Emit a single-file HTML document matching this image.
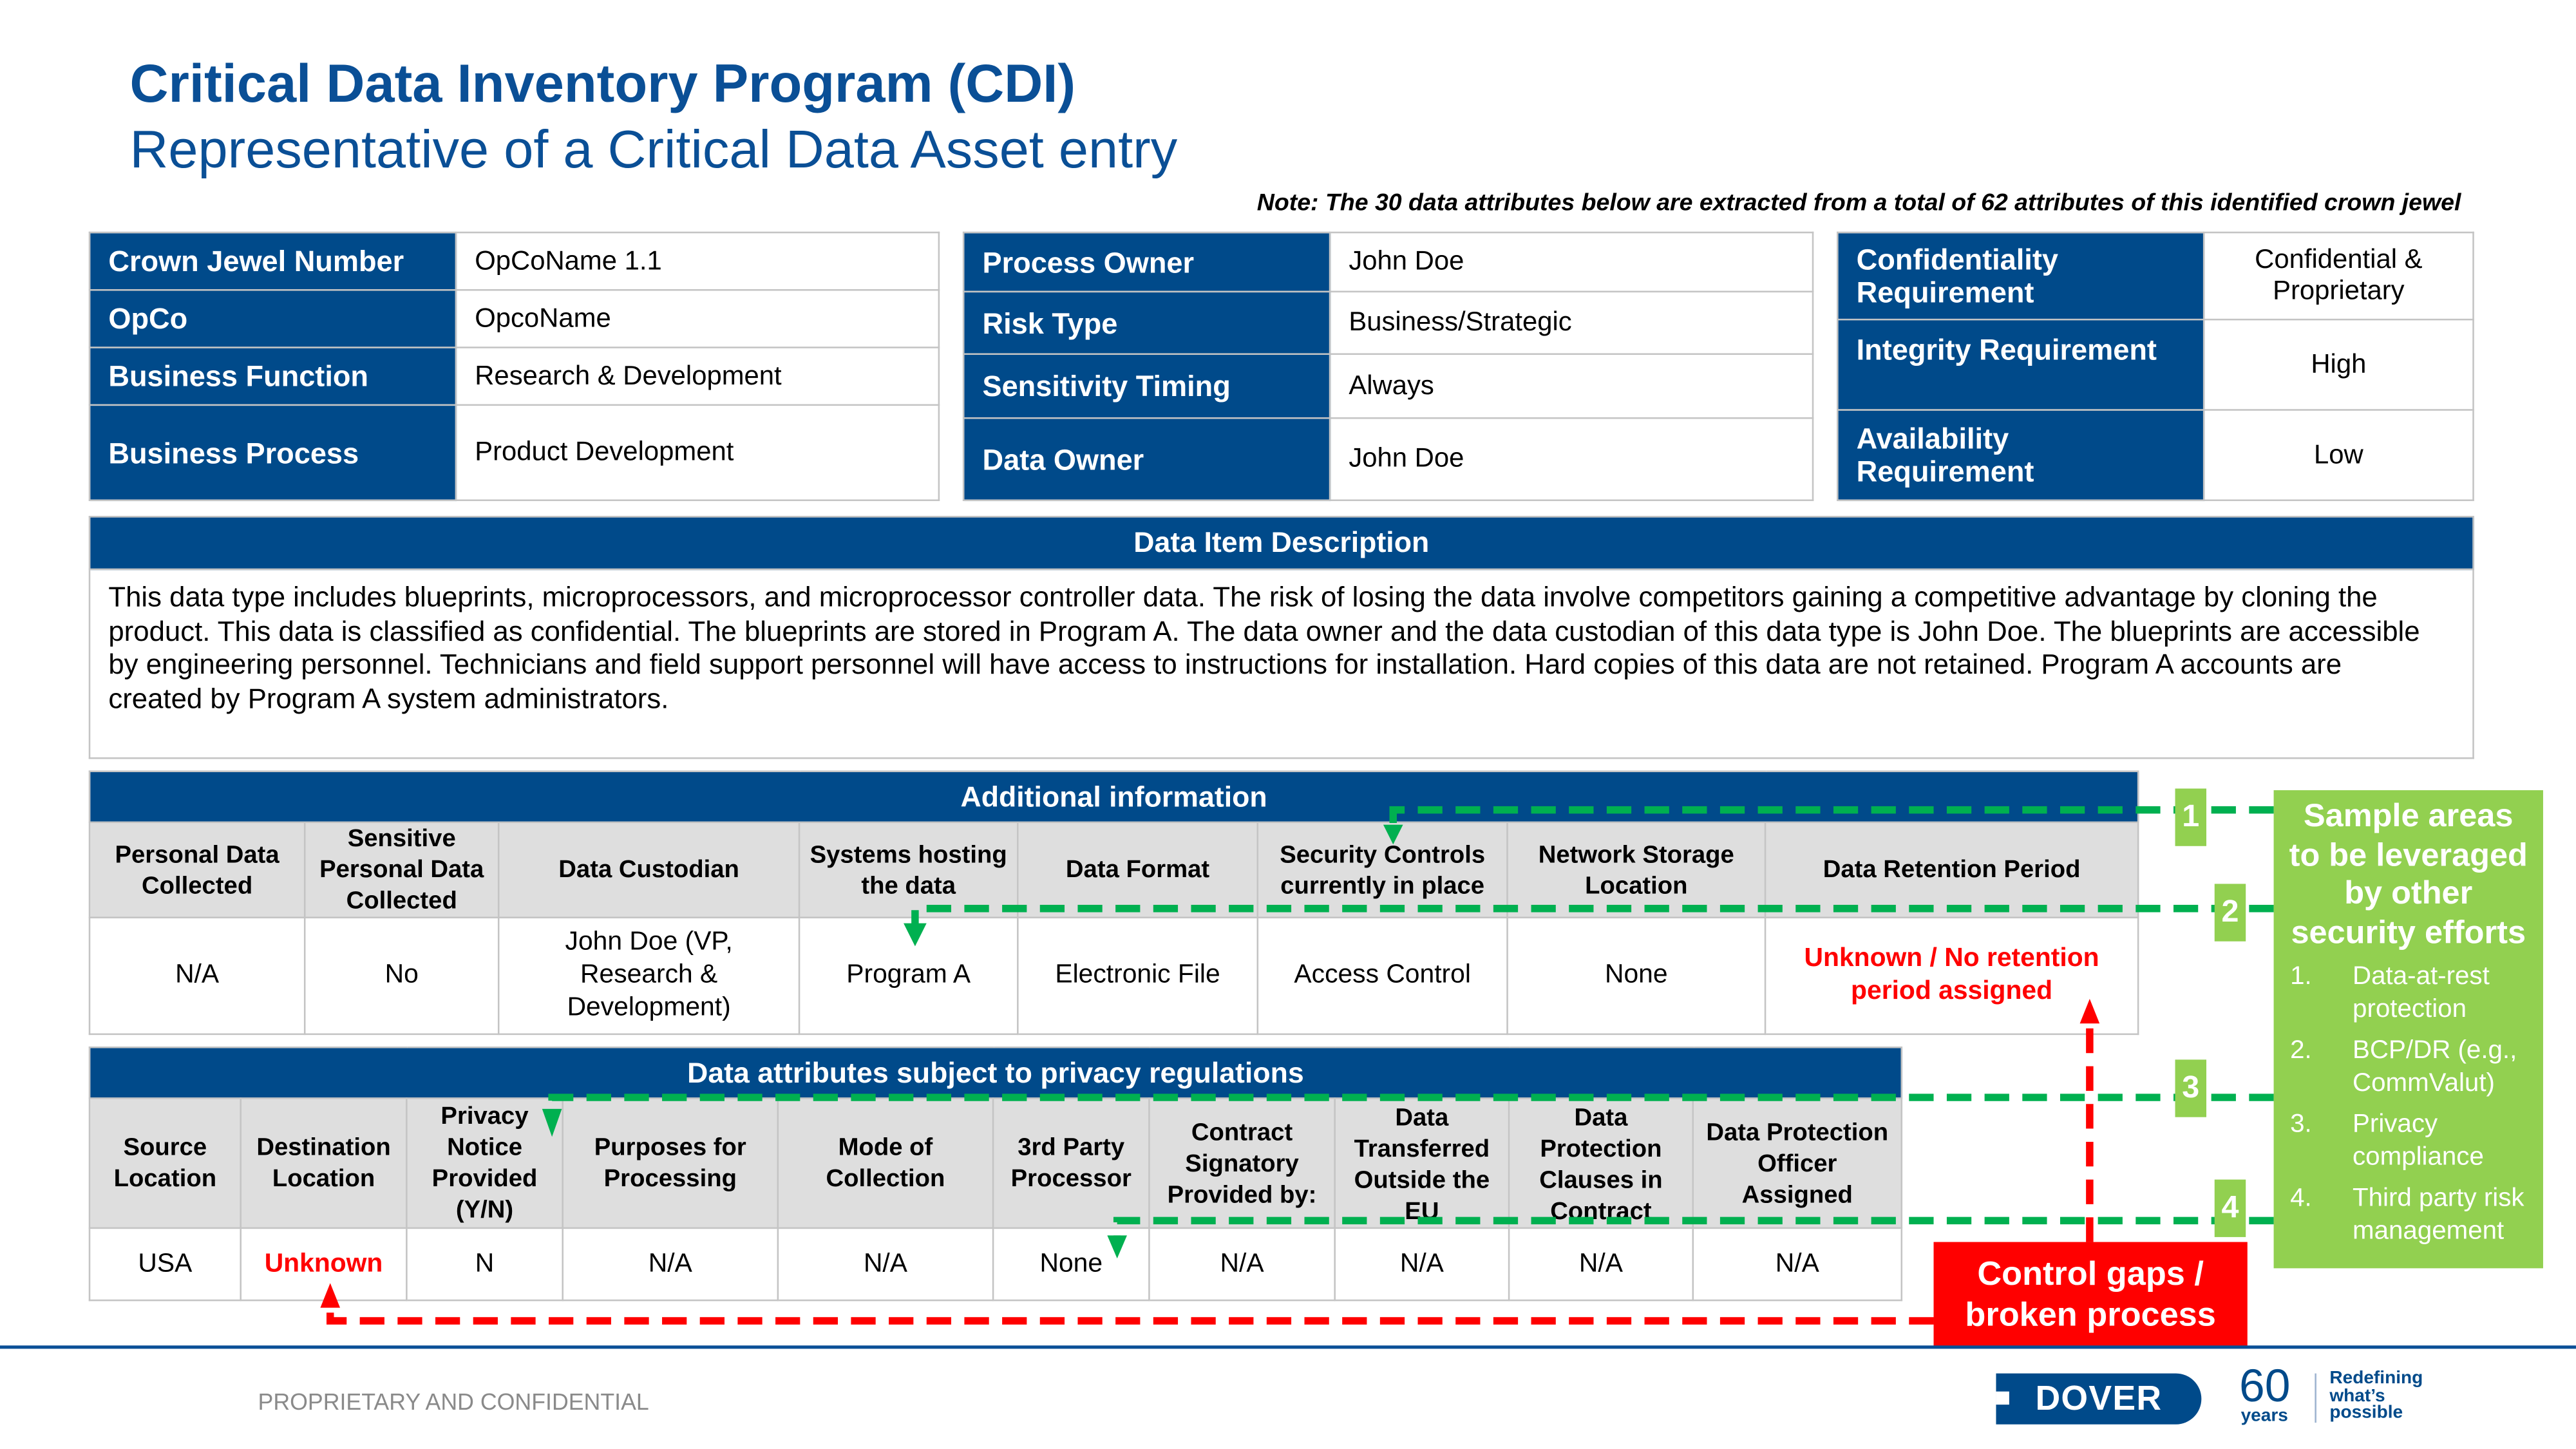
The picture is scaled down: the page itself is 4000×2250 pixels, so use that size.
<!DOCTYPE html>
<html><head><meta charset="utf-8">
<style>
html,body{margin:0;padding:0;background:#fff;}
body{width:4000px;height:2250px;overflow:hidden;position:relative;}
#s{position:absolute;left:0;top:0;width:1568px;height:882px;transform:scale(2.5510);transform-origin:0 0;font-family:"Liberation Sans",Arial,sans-serif;color:#000;}
.a{position:absolute;}
table{position:absolute;border-collapse:collapse;table-layout:fixed;}
td{border:1.2px solid #c4c4c4;padding:0 11px;font-size:16.4px;vertical-align:middle;}
td.l{background:#004a8a;color:#fff;font-weight:bold;font-size:17.7px;line-height:20px;}
td.c{text-align:center;}
.hd{background:#004a8a;color:#fff;font-weight:bold;font-size:17.5px;text-align:center;}
.ch td{background:#dedede;font-weight:bold;font-size:15px;text-align:center;padding:0 2px;line-height:19px;}
.dr td{text-align:center;font-size:16px;padding:0 4px;line-height:20px;}
.red{color:#f00;font-weight:bold;}
.nb{position:absolute;width:19px;height:35px;background:#92d050;color:#fff;font-weight:bold;font-size:19px;text-align:center;line-height:35px;}
</style></head><body>
<div id="s">
<div class="a" style="left:79px;top:32px;font-size:32.6px;font-weight:bold;color:#0a4f96;">Critical Data Inventory Program (CDI)</div>
<div class="a" style="left:79px;top:73px;font-size:32.5px;color:#0a4f96;">Representative of a Critical Data Asset entry</div>
<div class="a" style="right:70px;top:116px;font-size:14.7px;font-style:italic;font-weight:bold;">Note: The 30 data attributes below are extracted from a total of 62 attributes of this identified crown jewel</div>

<table style="left:54px;top:141px;width:518px;">
<colgroup><col style="width:223px"><col></colgroup>
<tr style="height:35px"><td class="l">Crown Jewel Number</td><td>OpCoName 1.1</td></tr>
<tr style="height:35px"><td class="l">OpCo</td><td>OpcoName</td></tr>
<tr style="height:35px"><td class="l">Business Function</td><td>Research &amp; Development</td></tr>
<tr style="height:58px"><td class="l">Business Process</td><td>Product Development</td></tr>
</table>

<table style="left:586px;top:141px;width:518px;">
<colgroup><col style="width:223px"><col></colgroup>
<tr style="height:36px"><td class="l">Process Owner</td><td>John Doe</td></tr>
<tr style="height:38px"><td class="l">Risk Type</td><td>Business/Strategic</td></tr>
<tr style="height:39px"><td class="l">Sensitivity Timing</td><td>Always</td></tr>
<tr style="height:50px"><td class="l">Data Owner</td><td>John Doe</td></tr>
</table>

<table style="left:1118px;top:141px;width:388px;">
<colgroup><col style="width:223px"><col></colgroup>
<tr style="height:53px"><td class="l">Confidentiality<br>Requirement</td><td class="c">Confidential &amp; Proprietary</td></tr>
<tr style="height:55px"><td class="l" style="vertical-align:top;padding-top:8px">Integrity Requirement</td><td class="c">High</td></tr>
<tr style="height:55px"><td class="l">Availability<br>Requirement</td><td class="c">Low</td></tr>
</table>

<table style="left:54px;top:314px;width:1452px;">
<tr style="height:32px"><td class="hd">Data Item Description</td></tr>
<tr style="height:115px"><td style="vertical-align:top;padding:6px 11px;font-size:17.15px;line-height:20.5px;white-space:nowrap;overflow:hidden;">This data type includes blueprints, microprocessors, and microprocessor controller data. The risk of losing the data involve competitors gaining a competitive advantage by cloning the<br>product. This data is classified as confidential. The blueprints are stored in Program A. The data owner and the data custodian of this data type is John Doe. The blueprints are accessible<br>by engineering personnel. Technicians and field support personnel will have access to instructions for installation. Hard copies of this data are not retained. Program A accounts are<br>created by Program A system administrators.</td></tr>
</table>

<table style="left:54px;top:469px;width:1248px;">
<colgroup><col style="width:131px"><col style="width:118px"><col style="width:183px"><col style="width:133px"><col style="width:146px"><col style="width:152px"><col style="width:157px"><col></colgroup>
<tr style="height:31px"><td class="hd" colspan="8">Additional information</td></tr>
<tr class="ch" style="height:57px"><td>Personal Data Collected</td><td>Sensitive Personal Data Collected</td><td>Data Custodian</td><td>Systems hosting the data</td><td>Data Format</td><td>Security Controls currently in place</td><td>Network Storage Location</td><td>Data Retention Period</td></tr>
<tr class="dr" style="height:71px"><td>N/A</td><td>No</td><td style="padding:0 30px">John Doe (VP, Research &amp; Development)</td><td>Program A</td><td>Electronic File</td><td>Access Control</td><td>None</td><td class="red">Unknown / No retention period assigned</td></tr>
</table>

<table style="left:54px;top:637px;width:1104px;">
<colgroup><col style="width:92px"><col style="width:101px"><col style="width:95px"><col style="width:131px"><col style="width:131px"><col style="width:95px"><col style="width:113px"><col style="width:106px"><col style="width:112px"><col></colgroup>
<tr style="height:31px"><td class="hd" colspan="10">Data attributes subject to privacy regulations</td></tr>
<tr class="ch" style="height:78px"><td>Source Location</td><td>Destination Location</td><td>Privacy Notice Provided (Y/N)</td><td>Purposes for Processing</td><td>Mode of Collection</td><td>3rd Party Processor</td><td>Contract Signatory Provided by:</td><td style="vertical-align:top;padding-top:2px;overflow:hidden">Data Transferred Outside the EU</td><td style="vertical-align:top;padding-top:2px;overflow:hidden">Data Protection Clauses in Contract</td><td>Data Protection<br>Officer<br>Assigned</td></tr>
<tr class="dr" style="height:44px"><td>USA</td><td class="red">Unknown</td><td>N</td><td>N/A</td><td>N/A</td><td>None</td><td>N/A</td><td>N/A</td><td>N/A</td><td>N/A</td></tr>
</table>

<svg class="a" style="left:0;top:0" width="1568" height="882">
<g stroke="#00b050" stroke-width="4.5" fill="none" stroke-dasharray="15 8">
<path d="M1384 493 H848 V503"/>
<path d="M1384 553 H557 V563"/>
<path d="M1384 668 H336 V678"/>
<path d="M1384 743 H680 V753"/>
</g>
<g fill="#00b050">
<path d="M842 502 H854 L848 514 Z"/><path d="M550 562 H564 L557 576 Z"/><path d="M330 675 H342 L336 692 Z"/><path d="M674 752 H686 L680 766 Z"/>
</g>
<g stroke="#f00" stroke-width="4.5" fill="none" stroke-dasharray="15 8">
<path d="M1272 756 V622"/>
<path d="M1177 804 H201 V795"/>
</g>
<g fill="#f00"><path d="M1266 623 H1278 L1272 608 Z"/><path d="M195 796 H207 L201 781 Z"/></g>
</svg>

<div class="nb" style="left:1324px;top:480px;">1</div>
<div class="nb" style="left:1348px;top:538px;">2</div>
<div class="nb" style="left:1324px;top:645px;">3</div>
<div class="nb" style="left:1348px;top:718px;">4</div>

<div class="a" style="left:1384px;top:481px;width:164px;height:291px;background:#92d050;color:#fff;">
<div style="text-align:center;font-weight:bold;font-size:19.8px;line-height:23.5px;margin-top:5px;white-space:nowrap;">Sample areas<br>to be leveraged<br>by other<br>security efforts</div>
<div style="font-size:15.8px;line-height:19.5px;margin-top:5px;">
<div style="display:flex;margin-bottom:6px"><span style="width:38px;padding-left:10px;flex:none">1.</span><span>Data-at-rest protection</span></div>
<div style="display:flex;margin-bottom:6px"><span style="width:38px;padding-left:10px;flex:none">2.</span><span>BCP/DR (e.g., CommValut)</span></div>
<div style="display:flex;margin-bottom:6px"><span style="width:38px;padding-left:10px;flex:none">3.</span><span>Privacy compliance</span></div>
<div style="display:flex;"><span style="width:38px;padding-left:10px;flex:none">4.</span><span>Third party risk management</span></div>
</div></div>

<div class="a" style="left:1177px;top:756px;width:191px;height:64px;background:#f00;color:#fff;font-weight:bold;font-size:20.5px;line-height:25px;text-align:center;padding-top:7px;box-sizing:border-box;">Control gaps /<br>broken process</div>

<div class="a" style="left:0;top:819px;width:1568px;height:2px;background:#0a4f96;"></div>
<div class="a" style="left:157px;top:845px;font-size:14px;color:#8a8a8a;">PROPRIETARY AND CONFIDENTIAL</div>

<div class="a" style="left:1215px;top:836px;width:125px;height:31px;background:#004a8a;border-radius:0 16px 16px 0;color:#fff;font-weight:bold;font-size:21px;line-height:31px;text-align:center;letter-spacing:0.5px;">DOVER</div>
<div class="a" style="left:1215px;top:847px;width:8px;height:8px;background:#fff;"></div>
<div class="a" style="left:1363px;top:830px;color:#004a8a;font-size:28px;line-height:28px;">60</div>
<div class="a" style="left:1364px;top:856px;color:#004a8a;font-size:11px;font-weight:bold;">years</div>
<div class="a" style="left:1409px;top:836px;width:1px;height:30px;background:#9db4d0;"></div>
<div class="a" style="left:1418px;top:834px;color:#004a8a;font-size:11px;font-weight:bold;line-height:10.5px;">Redefining<br>what’s<br>possible</div>
</div>
</body></html>
